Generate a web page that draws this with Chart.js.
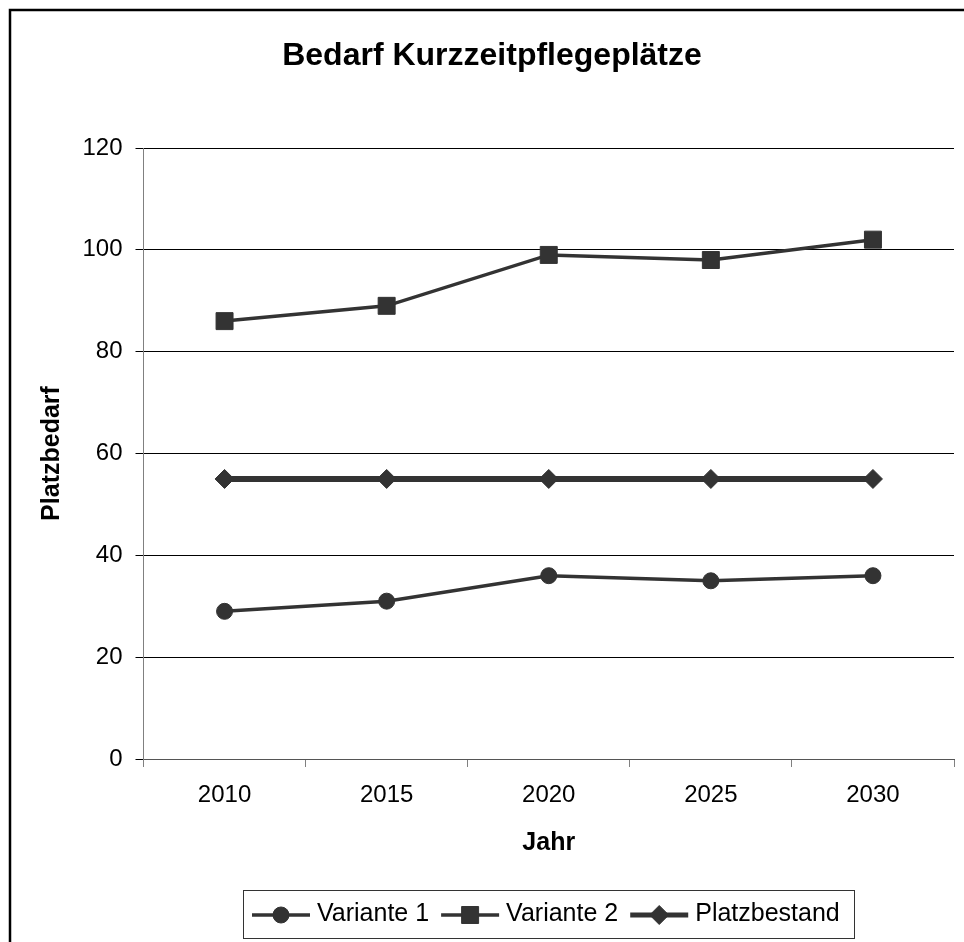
<!DOCTYPE html>
<html><head><meta charset="utf-8">
<script src="https://cdn.jsdelivr.net/npm/chart.js@4/dist/chart.umd.min.js"></script>
<style>html,body{margin:0;padding:0;background:#fff}#wrap{width:964px;height:942px}canvas{display:block}</style>
</head><body><div id="wrap"><canvas id="c" width="964" height="942"></canvas></div>
<script>
const years = ['2010', '2015', '2020', '2025', '2030'];
const variante1 = [29, 31, 36, 35, 36];
const variante2 = [86, 89, 99, 98, 102];
const platzbestand = [55, 55, 55, 55, 55];
const yTicks = [0, 20, 40, 60, 80, 100, 120];
const seriesLabels = ['Variante 1', 'Variante 2', 'Platzbestand'];
const titleText = 'Bedarf Kurzzeitpflegeplätze';
const xTitle = 'Jahr';
const yTitle = 'Platzbedarf';

const FONT = '"Liberation Sans", Arial, Helvetica, sans-serif';
const INK = '#333333';

const framePlugin = {
  id: 'frame',
  beforeDraw(chart) {
    const ctx = chart.ctx;
    ctx.save();
    ctx.fillStyle = '#ffffff';
    ctx.fillRect(0, 0, chart.width, chart.height);
    ctx.strokeStyle = '#000000';
    ctx.lineWidth = 2.5;
    ctx.beginPath();
    ctx.moveTo(10, chart.height + 5);
    ctx.lineTo(10, 10);
    ctx.lineTo(chart.width + 5, 10);
    ctx.stroke();
    ctx.restore();
  }
};

const legendPlugin = {
  id: 'boxLegend',
  afterDraw(chart) {
    const ctx = chart.ctx;
    const ca = chart.chartArea;
    ctx.save();
    ctx.font = '25px ' + FONT;
    const lineW = 58, gapLT = 7, gapItems = 12, padL = 9, padR = 14;
    const items = chart.data.datasets.map(ds => ({ ds, tw: ctx.measureText(ds.label).width }));
    const total = padL + padR + items.reduce((s, it) => s + lineW + gapLT + it.tw, 0) + gapItems * (items.length - 1);
    const cx = (ca.left + ca.right) / 2;
    const left = Math.round(cx - total / 2);
    const top = 890.5, h = 48;
    ctx.strokeStyle = '#333333';
    ctx.lineWidth = 1;
    ctx.strokeRect(left + 0.5, top, Math.round(total), h);
    let x = left + padL;
    const cy = 915;
    items.forEach(it => {
      const ds = it.ds;
      ctx.strokeStyle = ds.borderColor;
      ctx.lineWidth = Math.min(ds.borderWidth, 5);
      ctx.beginPath();
      ctx.moveTo(x, cy);
      ctx.lineTo(x + lineW, cy);
      ctx.stroke();
      ctx.fillStyle = ds.pointBackgroundColor;
      ctx.strokeStyle = ds.pointBorderColor;
      ctx.lineWidth = ds.pointBorderWidth;
      Chart.helpers.drawPoint(ctx, { pointStyle: ds.pointStyle, radius: ds.pointRadius, rotation: 0, borderWidth: ds.pointBorderWidth }, x + lineW / 2, cy);
      ctx.fillStyle = '#000000';
      ctx.textBaseline = 'alphabetic';
      ctx.textAlign = 'left';
      ctx.fillText(ds.label, x + lineW + gapLT, 921);
      x += lineW + gapLT + it.tw + gapItems;
    });
    ctx.restore();
  }
};

new Chart(document.getElementById('c'), {
  type: 'line',
  data: {
    labels: years,
    datasets: [
      { label: seriesLabels[0], data: variante1, borderColor: INK, backgroundColor: INK, borderWidth: 3.5,
        pointStyle: 'circle', pointRadius: 8, pointBorderWidth: 1, pointBackgroundColor: INK, pointBorderColor: INK, tension: 0 },
      { label: seriesLabels[1], data: variante2, borderColor: INK, backgroundColor: INK, borderWidth: 3.5,
        pointStyle: 'rect', pointRadius: 12, pointBorderWidth: 1, pointBackgroundColor: INK, pointBorderColor: INK, tension: 0 },
      { label: seriesLabels[2], data: platzbestand, borderColor: INK, backgroundColor: INK, borderWidth: 6,
        pointStyle: 'rectRot', pointRadius: 9.5, pointBorderWidth: 1, pointBackgroundColor: INK, pointBorderColor: INK, tension: 0 }
    ]
  },
  options: {
    responsive: false,
    animation: false,
    devicePixelRatio: 1,
    layout: { autoPadding: false, padding: { left: 30, right: 10, top: 0, bottom: 84 } },
    plugins: {
      legend: { display: false },
      tooltip: { enabled: false },
      title: {
        display: true, text: titleText, color: '#000000',
        font: { family: FONT, size: 32, weight: 'bold' },
        padding: { top: 36.8, bottom: 72.8 }
      }
    },
    scales: {
      x: {
        type: 'category',
        offset: true,
        grid: { display: true, offset: true, drawOnChartArea: false, drawTicks: true, tickLength: 8, color: '#808080', lineWidth: 1 },
        border: { display: true, color: '#555555', width: 1 },
        ticks: { color: '#000000', font: { family: FONT, size: 24 }, padding: 13.6, maxRotation: 0, autoSkip: false },
        title: { display: true, text: xTitle, color: '#000000', font: { family: FONT, size: 25, weight: 'bold' }, padding: { top: 0, bottom: 0 } },
        afterFit(s) { s.height = 99; s.paddingLeft = 0; s.paddingRight = 0; }
      },
      y: {
        min: 0, max: 120,
        afterBuildTicks(s) { s.ticks = yTicks.map(v => ({ value: v })); },
        grid: { color: '#000000', lineWidth: 1, drawTicks: true, tickLength: 8 },
        border: { display: true, color: '#808080', width: 1 },
        ticks: { color: '#000000', font: { family: FONT, size: 24 }, padding: 13 },
        title: { display: true, text: yTitle, color: '#000000', font: { family: FONT, size: 25, weight: 'bold' }, padding: { top: 7, bottom: 0 } },
        afterFit(s) { s.width = 113.5; }
      }
    }
  },
  plugins: [framePlugin, legendPlugin]
});
</script>
</body></html>
